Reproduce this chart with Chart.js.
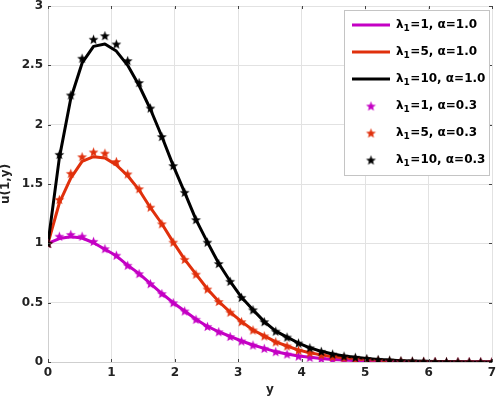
<!DOCTYPE html>
<html><head><meta charset="utf-8">
<script src="https://cdn.jsdelivr.net/npm/chart.js@4/dist/chart.umd.min.js"></script>
<style>html,body{margin:0;padding:0;background:#fff}canvas{display:block}</style>
</head><body>
<canvas id="c" width="498" height="398"></canvas>
<script>
// y positions (x axis of the chart)
const yPos = [0, 0.179, 0.359, 0.538, 0.718, 0.897, 1.077, 1.256, 1.436, 1.615,
  1.795, 1.974, 2.154, 2.333, 2.513, 2.692, 2.872, 3.051, 3.231, 3.410,
  3.590, 3.769, 3.949, 4.128, 4.308, 4.487, 4.667, 4.846, 5.026, 5.205,
  5.385, 5.564, 5.744, 5.923, 6.103, 6.282, 6.462, 6.641, 6.821, 7];

// alpha = 1.0 (solid lines)
const lineL1 = [1, 1.04, 1.055, 1.045, 1.005, 0.95, 0.895, 0.815, 0.745, 0.66,
  0.577, 0.50, 0.43, 0.36, 0.30, 0.255, 0.215, 0.177, 0.143, 0.115,
  0.087, 0.067, 0.05, 0.04, 0.03, 0.022, 0.016, 0.012, 0.009, 0.006,
  0.004, 0.003, 0.002, 0.001, 0.001, 0.0005, 0, 0, 0, 0];
const lineL5 = [1, 1.34, 1.55, 1.69, 1.73, 1.72, 1.66, 1.57, 1.45, 1.30,
  1.165, 1.01, 0.865, 0.74, 0.615, 0.51, 0.42, 0.34, 0.27, 0.22,
  0.17, 0.135, 0.10, 0.078, 0.06, 0.045, 0.035, 0.026, 0.019, 0.014,
  0.01, 0.007, 0.005, 0.004, 0.003, 0.002, 0.001, 0.001, 0.0005, 0];
const lineL10 = [1, 1.72, 2.22, 2.52, 2.66, 2.68, 2.62, 2.50, 2.33, 2.13,
  1.90, 1.655, 1.43, 1.20, 1.01, 0.83, 0.68, 0.545, 0.44, 0.34,
  0.26, 0.21, 0.16, 0.12, 0.09, 0.067, 0.05, 0.04, 0.03, 0.022,
  0.016, 0.011, 0.008, 0.006, 0.004, 0.003, 0.002, 0.001, 0.001, 0.0005];

// alpha = 0.3 (star markers)
const starL1 = [1, 1.06, 1.075, 1.06, 1.017, 0.955, 0.90, 0.815, 0.745, 0.66,
  0.577, 0.50, 0.43, 0.36, 0.30, 0.255, 0.215, 0.177, 0.143, 0.115,
  0.087, 0.067, 0.05, 0.04, 0.03, 0.022, 0.016, 0.012, 0.009, 0.006,
  0.004, 0.003, 0.002, 0.001, 0.001, 0.0005, 0, 0, 0, 0];
const starL5 = [1, 1.37, 1.59, 1.73, 1.77, 1.76, 1.69, 1.585, 1.46, 1.305,
  1.165, 1.01, 0.865, 0.74, 0.615, 0.51, 0.42, 0.34, 0.27, 0.22,
  0.17, 0.135, 0.10, 0.078, 0.06, 0.045, 0.035, 0.026, 0.019, 0.014,
  0.01, 0.007, 0.005, 0.004, 0.003, 0.002, 0.001, 0.001, 0.0005, 0];
const starL10 = [1, 1.75, 2.25, 2.56, 2.72, 2.75, 2.68, 2.54, 2.355, 2.14,
  1.90, 1.655, 1.43, 1.20, 1.01, 0.83, 0.68, 0.545, 0.44, 0.34,
  0.26, 0.21, 0.16, 0.12, 0.09, 0.067, 0.05, 0.04, 0.03, 0.022,
  0.016, 0.011, 0.008, 0.006, 0.004, 0.003, 0.002, 0.001, 0.001, 0.0005];

const seriesLabels = ['λ₁=1, α=1.0', 'λ₁=5, α=1.0', 'λ₁=10, α=1.0',
                      'λ₁=1, α=0.3', 'λ₁=5, α=0.3', 'λ₁=10, α=0.3'];
const xTickLabels = ['0', '1', '2', '3', '4', '5', '6', '7'];
const yTickLabels = ['0', '0.5', '1', '1.5', '2', '2.5', '3'];

const MAG = '#c400c4', RED = '#e0300c', BLK = '#000000';
const FONT = '"DejaVu Sans", sans-serif';

function makeStar(color, r) {
  const s = Math.ceil(r * 2) + 2;
  const c = document.createElement('canvas');
  c.width = s; c.height = s;
  const g = c.getContext('2d');
  g.fillStyle = color;
  g.beginPath();
  for (let i = 0; i < 10; i++) {
    const a = -Math.PI / 2 + i * Math.PI / 5;
    const rr = (i % 2) ? r * 0.42 : r;
    const px = s / 2 + rr * Math.cos(a), py = s / 2 + 0.5 + rr * Math.sin(a);
    if (i === 0) g.moveTo(px, py); else g.lineTo(px, py);
  }
  g.closePath();
  g.fill();
  return c;
}

function pts(vals) { return yPos.map((x, i) => ({ x: x, y: vals[i] })); }

function lineDs(label, vals, color, order) {
  return { label, data: pts(vals), borderColor: color, backgroundColor: color,
    borderWidth: 3, pointRadius: 0, tension: 0, borderJoinStyle: 'round',
    showLine: true, order, kind: 'line' };
}
function starDs(label, vals, color, order) {
  return { label, data: pts(vals), borderColor: color, backgroundColor: color,
    showLine: false, pointStyle: makeStar(color, 5.2), pointRadius: 5,
    order, kind: 'star' };
}

const legendPlugin = {
  id: 'customLegend',
  afterDraw(chart) {
    const ctx = chart.ctx;
    const bx = 344, by = 10, bw = 145, bh = 165;
    ctx.save();
    ctx.fillStyle = '#ffffff';
    ctx.fillRect(bx, by, bw, bh);
    ctx.strokeStyle = '#c4c4c4';
    ctx.lineWidth = 1;
    ctx.strokeRect(bx + 0.5, by + 0.5, bw, bh);
    chart.data.datasets.forEach((ds, i) => {
      const cy = 25 + i * 27;
      if (ds.kind === 'line') {
        ctx.strokeStyle = ds.borderColor;
        ctx.lineWidth = 3;
        ctx.beginPath();
        ctx.moveTo(352, cy); ctx.lineTo(390, cy);
        ctx.stroke();
      } else {
        const img = ds.pointStyle;
        ctx.drawImage(img, 371 - img.width / 2, cy - img.height / 2);
      }
      const parts = ds.label.split('₁');
      let x = 396;
      ctx.fillStyle = '#000';
      ctx.textBaseline = 'middle';
      ctx.textAlign = 'left';
      ctx.font = 'bold 12px ' + FONT;
      ctx.fillText(parts[0], x, cy);
      x += ctx.measureText(parts[0]).width;
      ctx.font = 'bold 9px ' + FONT;
      ctx.fillText('1', x, cy + 4);
      x += ctx.measureText('1').width + 0.5;
      ctx.font = 'bold 12px ' + FONT;
      ctx.fillText(parts[1], x, cy);
    });
    ctx.restore();
  }
};

const tickMarksPlugin = {
  id: 'tickMarks',
  afterDatasetsDraw(chart) {
    const ctx = chart.ctx, a = chart.chartArea;
    const xs = chart.scales.x, ys = chart.scales.y;
    ctx.save();
    ctx.strokeStyle = '#444';
    ctx.lineWidth = 1;
    ctx.beginPath();
    xs.ticks.forEach(t => {
      const px = Math.round(xs.getPixelForValue(t.value)) + 0.5;
      ctx.moveTo(px, a.bottom); ctx.lineTo(px, a.bottom - 3);
      ctx.moveTo(px, a.top); ctx.lineTo(px, a.top + 3);
    });
    ys.ticks.forEach(t => {
      const py = Math.round(ys.getPixelForValue(t.value)) + 0.5;
      ctx.moveTo(a.left, py); ctx.lineTo(a.left + 3, py);
      ctx.moveTo(a.right, py); ctx.lineTo(a.right - 3, py);
    });
    ctx.stroke();
    ctx.restore();
  }
};

new Chart(document.getElementById('c'), {
  type: 'scatter',
  data: {
    datasets: [
      lineDs(seriesLabels[0], lineL1, MAG, 5),
      lineDs(seriesLabels[1], lineL5, RED, 4),
      lineDs(seriesLabels[2], lineL10, BLK, 3),
      starDs(seriesLabels[3], starL1, MAG, 2),
      starDs(seriesLabels[4], starL5, RED, 1),
      starDs(seriesLabels[5], starL10, BLK, 0)
    ]
  },
  options: {
    responsive: false,
    animation: false,
    devicePixelRatio: 1,
    layout: { padding: { top: 5, right: 5, left: 0, bottom: 0 } },
    plugins: { legend: { display: false }, tooltip: { enabled: false } },
    scales: {
      x: {
        type: 'linear', min: 0, max: 7,
        ticks: { stepSize: 1, padding: 4, color: '#222',
          font: { family: FONT, size: 12, weight: 'bold' },
          callback: (v) => xTickLabels[Math.round(v)] },
        grid: { color: '#e2e2e2', drawTicks: false },
        border: { color: '#cfcfcf' },
        title: { display: true, text: 'y', color: '#222',
          font: { family: FONT, size: 12, weight: 'bold' }, padding: { top: 0, bottom: 1 } },
        afterFit(s) { s.height = 36; s.paddingLeft = 0; s.paddingRight = 0; }
      },
      y: {
        type: 'linear', min: 0, max: 3,
        ticks: { stepSize: 0.5, padding: 5, color: '#222',
          font: { family: FONT, size: 12, weight: 'bold' },
          callback: (v) => yTickLabels[Math.round(v * 2)] },
        grid: { color: '#e2e2e2', drawTicks: false },
        border: { color: '#cfcfcf' },
        title: { display: true, text: 'u(1,y)', color: '#222',
          font: { family: FONT, size: 12, weight: 'bold', lineHeight: 1.0 }, padding: 0 },
        afterFit(s) { s.width = 48; s.paddingTop = 0; s.paddingBottom = 0; }
      }
    }
  },
  plugins: [tickMarksPlugin, legendPlugin]
});
</script>
</body></html>
